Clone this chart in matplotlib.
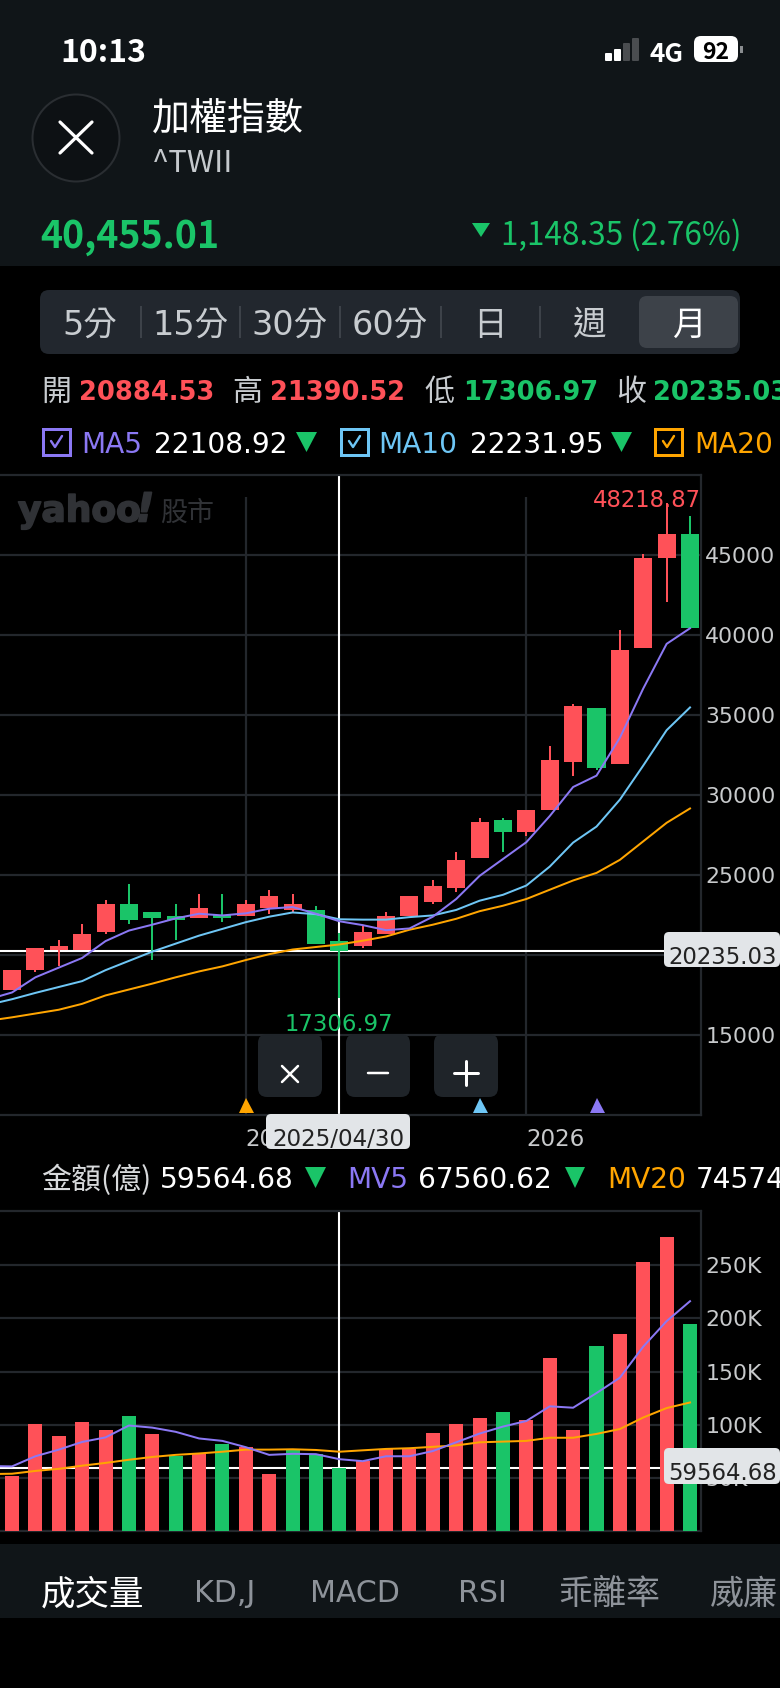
import numpy as np
import matplotlib
matplotlib.use('Agg')
import matplotlib.pyplot as plt
import matplotlib.patheffects as pe
from matplotlib.patches import Rectangle, Circle, FancyBboxPatch, Polygon

plt.rcParams['font.family'] = ['Noto Sans CJK TC', 'DejaVu Sans']
LATIN = ['DejaVu Sans', 'Noto Sans CJK TC']

# monthly candles
opens = [17790, 19053, 20290, 20290, 21421, 23184, 22684, 22421, 22290, 22526,
         22421, 22921, 22789, 22789, 20884.53, 20553, 21290, 22421, 23290, 24184,
         26053, 28421, 27684, 29053, 32053, 35421, 31921, 39184, 44816, 46316]
highs = [19053, 20421, 20921, 21921, 23421, 24421, 22684, 23184, 23790, 23790,
         23421, 24053, 23790, 23053, 21390.52, 21790, 22684, 23684, 24684, 26421,
         28553, 28553, 29053, 33053, 35684, 35421, 40316, 45053, 48218.87, 47421]
lows = [17790, 18921, 19290, 20290, 21290, 21921, 19684, 20921, 22290, 22053,
        22421, 22553, 22658, 20684, 17306.97, 20421, 21290, 22421, 23184, 23921,
        26053, 26421, 27421, 29053, 31184, 31553, 31921, 39184, 42053, 40455.01]
closes = [19053, 20421, 20553, 21290, 23184, 22184, 22290, 22184, 22921, 22290,
          23184, 23684, 23184, 20684, 20235.03, 21421, 22421, 23684, 24290, 25921,
          28290, 27684, 29053, 32184, 35553, 31684, 39053, 44816, 46316, 40455.01]

# moving averages start one month left of the first candle
ma5 = [17236, 17657, 18605, 19210, 19815, 20868, 21526, 21894, 22289, 22579, 22473,
       22605, 22894, 23000, 22579, 22108.92, 21868, 21552, 21658, 22394, 23500,
       24947, 26000, 27052, 28684, 30500, 31210, 33579, 36658, 39447, 40421]
ma10 = [16894, 17236, 17631, 18000, 18368, 19052, 19631, 20210, 20710, 21210, 21631,
        22052, 22394, 22658, 22552, 22231.95, 22210, 22210, 22368, 22473, 22816,
        23394, 23763, 24342, 25526, 27026, 28026, 29710, 31842, 34052, 35473]
ma20 = [15894, 16105, 16342, 16579, 16947, 17473, 17842, 18210, 18605, 18973, 19289,
        19684, 20052, 20342, 20500, 20658, 20894, 21158, 21579, 21894, 22263,
        22737, 23079, 23500, 24079, 24658, 25131, 25947, 27105, 28263, 29158]

volumes = [51574, 100192, 89023, 102163, 94608, 107748, 90994, 70627, 72927, 81468,
           79168, 53217, 76869, 72270, 59564.68, 66028, 76869, 77526, 92637, 100192,
           106105, 111690, 104134, 162279, 94608, 173776, 184945, 252616, 276925, 194472]
mv5 = [61101, 60773, 70299, 76540, 83768, 88038, 99207, 97236, 93294, 87053, 84753,
       78840, 71613, 72599, 72270, 67560.62, 65700, 70299, 70299, 75227, 83439,
       91652, 98222, 103478, 117275, 115961, 129758, 144212, 173448, 197429, 216153]
mv20 = [53546, 53874, 56502, 58473, 61430, 64058, 67014, 69642, 71613, 72927, 74570,
        76541, 76541, 76869, 76212, 74574, 75884, 77198, 77855, 79169, 80483,
        83439, 84096, 84753, 87710, 87710, 91323, 95922, 106763, 115632, 120888]

price_ticks = [15000, 20000, 25000, 30000, 35000, 40000, 45000]
vol_ticks = [50000, 100000, 150000, 200000, 250000]
vol_labels = ['50K', '100K', '150K', '200K', '250K']
year_idx = [10, 22]
year_labels = ['2025', '2026']
signal_idx = [10, 20, 25]
signal_cols = ['#ffa500', '#6ec6f5', '#8b78f4']
pick = 14

RED = '#ff5158'
GREEN = '#1ac468'
PURPLE = '#8b78f4'
BLUE = '#6ec6f5'
ORANGE = '#ffa500'
GRID = '#23272c'
PANEL = '#101518'
LBL = '#c8cacc'
W, H = 780, 1688


def px(n):
    return n * 0.72


fig = plt.figure(figsize=(W / 100, H / 100), dpi=100, facecolor='black')


def chart_axes(top, bottom):
    a = fig.add_axes([0, 1 - bottom / H, 701 / W, (bottom - top) / H], facecolor='black')
    a.set_xlim(-12 / 23.38, 689 / 23.38)
    a.yaxis.tick_right()
    a.set_axisbelow(True)
    a.grid(axis='y', color=GRID, lw=1.6)
    a.tick_params(axis='both', length=0, labelcolor=LBL, labelsize=px(22), pad=3,
                  labelfontfamily='DejaVu Sans')
    a.spines['left'].set_visible(False)
    for s in ['right', 'top', 'bottom']:
        a.spines[s].set_color(GRID)
        a.spines[s].set_linewidth(1.6)
    return a


xs = np.arange(len(closes))
xs_ma = np.arange(-1, len(closes))
o = np.array(opens)
c = np.array(closes)

# price panel
ax = chart_axes(475, 1115)
ax.set_ylim(10000, 50000)
ax.set_yticks(price_ticks)
ax.set_xticks(year_idx)
ax.set_xticklabels(year_labels, ha='left')
ax.tick_params(axis='x', pad=9, labelsize=px(23))
ax.vlines(year_idx, 10000, 48600, color=GRID, lw=1.6, zorder=1)
ax.axvline(pick, color='white', lw=1.5, zorder=2)
ax.axhline(closes[pick], color='white', lw=1.5, zorder=2)
candle_cols = [RED if c[i] >= o[i] else GREEN for i in xs]
ax.vlines(xs, lows, highs, color=candle_cols, lw=px(2), zorder=3)
ax.bar(xs, np.abs(c - o), bottom=np.minimum(c, o), width=0.77, color=candle_cols, zorder=3)
ax.plot(xs_ma, ma20, color=ORANGE, lw=px(2), zorder=4)
ax.plot(xs_ma, ma10, color=BLUE, lw=px(2), zorder=4)
ax.plot(xs_ma, ma5, color=PURPLE, lw=px(2), zorder=4)
for i, col in zip(signal_idx, signal_cols):
    ax.plot(i, 10650, marker='^', ms=px(15), color=col, mew=0, zorder=4)

# amount panel, bar colour follows the previous close
ax2 = chart_axes(1211, 1531)
ax2.set_ylim(0, 301000)
ax2.set_yticks(vol_ticks)
ax2.set_yticklabels(vol_labels)
ax2.set_xticks([])
ax2.axvline(pick, color='white', lw=1.5, zorder=2)
ax2.axhline(volumes[pick], color='white', lw=1.5, zorder=2)
vol_cols = [RED if i == 0 or c[i] >= c[i - 1] else GREEN for i in xs]
ax2.bar(xs, volumes, width=0.6, color=vol_cols, zorder=3)
ax2.plot(xs_ma, mv20, color=ORANGE, lw=px(2), zorder=4)
ax2.plot(xs_ma, mv5, color=PURPLE, lw=px(2), zorder=4)

# everything around the charts is placed in screen pixels
ui = fig.add_axes([0, 0, 1, 1], zorder=5)
ui.set_xlim(0, W)
ui.set_ylim(H, 0)
ui.axis('off')
ui.patch.set_alpha(0)


def txt(x, y, s, size, color='white', ha='left', weight='normal', **kw):
    return ui.text(x, y, s, fontsize=px(size), color=color, ha=ha, va='center_baseline',
                   fontweight=weight, **kw)


def box(x0, y0, x1, y1, color, r=8, z=1, **kw):
    p = FancyBboxPatch((x0 + r, y0 + r), x1 - x0 - 2 * r, y1 - y0 - 2 * r,
                       boxstyle=f'round,pad={r},rounding_size={r}', fc=color, ec='none', zorder=z, **kw)
    ui.add_patch(p)


def tri_down(x0, x1, y0, y1, color=GREEN):
    ui.add_patch(Polygon([(x0, y0), (x1, y0), ((x0 + x1) / 2, y1)], fc=color, ec='none'))


def seg(xx, yy, color='white', lw=2.5):
    ui.plot(xx, yy, color=color, lw=px(lw), solid_capstyle='round')


def check(x0, color):
    ui.add_patch(Rectangle((x0 + 1, 429), 27, 26, fc='none', ec=color, lw=px(3)))
    seg([x0 + 9, x0 + 13, x0 + 20], [441, 447, 436], color, 2.4)


# top bar
ui.add_patch(Rectangle((0, 0), W, 266, fc=PANEL, ec='none', zorder=0))
txt(60.5, 49, '10:13', 32, weight='bold')
for i, (x0, top, col) in enumerate([(605, 53, 'white'), (614, 49, 'white'), (623, 43, '#4a4d50'), (632, 38, '#4a4d50')]):
    ui.add_patch(FancyBboxPatch((x0 + 1, top + 1), 5, 59 - top, boxstyle='round,pad=1', fc=col, ec='none'))
txt(649, 51, '4G', 26, weight='bold')
box(694, 36, 738, 62, 'white', r=7)
txt(716, 50, '92', 23, color='black', ha='center', weight='bold', zorder=3)
ui.add_patch(Rectangle((740, 46), 3, 7, fc='#8a8d90', ec='none'))

ui.add_patch(Circle((76, 138), 43.5, fc='#0d1114', ec='#2a2e32', lw=px(2)))
seg([60, 92], [122, 153], lw=3.2)
seg([60, 92], [153, 122], lw=3.2)
txt(152, 116, '加權指數', 38, weight='medium')
txt(152, 160, '^TWII', 31, color='#c5c9cd')
txt(40, 232, '40,455.01', 37.5, color=GREEN, weight='bold')
tri_down(472, 490, 223, 237)
txt(501, 232, '1,148.35 (2.76%)', 31.5, color=GREEN)

# period tabs
box(40, 290, 740, 354, '#22272e', r=9)
box(639, 296, 738, 348, '#3d4249', r=8, z=2)
tab_x = [90, 190, 290, 390, 490, 590, 690]
tab_names = ['5分', '15分', '30分', '60分', '日', '週', '月']
for x, name in zip(tab_x, tab_names):
    txt(x, 322, name, 33.5, color='white' if name == '月' else '#c8ccd0', ha='center', zorder=3,
        family=LATIN)
for x in [141, 240, 340, 441, 540]:
    ui.plot([x, x], [307, 337], color='#3d4249', lw=px(2), zorder=3)

# OHLC row
for x, s in zip([41, 232, 424, 616], ['開', '高', '低', '收']):
    txt(x, 389, s, 30, color='#c8ccd0')
for x, s, col in zip([79, 270, 463, 653], ['20884.53', '21390.52', '17306.97', '20235.03'], [RED, RED, GREEN, GREEN]):
    txt(x, 390, s, 25.8, color=col, weight='bold', family='DejaVu Sans')

# MA row
check(42, PURPLE)
txt(81, 442, 'MA5', 28, color=PURPLE, family='DejaVu Sans')
txt(154, 442, '22108.92', 28, family='DejaVu Sans')
tri_down(296, 317, 432, 452)
check(340, BLUE)
txt(378, 442, 'MA10', 28, color=BLUE, family='DejaVu Sans')
txt(470, 442, '22231.95', 28, family='DejaVu Sans')
tri_down(611, 632, 432, 452)
check(654, ORANGE)
txt(694, 442, 'MA20', 28, color=ORANGE, family='DejaVu Sans')

# watermark
mark = txt(18, 508, 'yahoo', 36, color='#303236', weight='bold', family='DejaVu Sans')
mark.set_path_effects([pe.withStroke(linewidth=1.2, foreground='#303236')])
mark2 = txt(136, 506, '!', 40, color='#303236', weight='bold', family='DejaVu Sans', style='italic')
mark2.set_path_effects([pe.withStroke(linewidth=1.2, foreground='#303236')])
txt(160, 510, '股市', 27, color='#303236')

# price labels
txt(701, 498, '48218.87', 22.7, color=RED, ha='right', family='DejaVu Sans')
txt(285, 1022, '17306.97', 22.7, color=GREEN, family='DejaVu Sans')
box(664, 932, 780, 967, '#e2e5e8', r=5)
txt(722.5, 955, '20235.03', 22.7, color='#222222', ha='center', family='DejaVu Sans', zorder=3)

# zoom buttons
for x0, x1 in [(258, 322), (346, 410), (434, 498)]:
    box(x0, 1034, x1, 1097, '#1f2429', r=9)
seg([282, 298], [1066, 1082])
seg([282, 298], [1082, 1066])
seg([368, 388], [1073, 1073])
seg([454, 478], [1073, 1073], lw=3)
seg([466, 466], [1061, 1085], lw=3)

box(266, 1114, 410, 1149, '#e2e5e8', r=5)
txt(338, 1137, '2025/04/30', 23, color='#222222', ha='center', family='DejaVu Sans', zorder=3)

# amount row
txt(41, 1177, '金額(億)', 30, color='#d8dadc')
txt(160, 1177, '59564.68', 28, family='DejaVu Sans')
tri_down(305, 326, 1167, 1188)
txt(347, 1177, 'MV5', 28, color=PURPLE, family='DejaVu Sans')
txt(418, 1177, '67560.62', 28, family='DejaVu Sans')
tri_down(565, 585, 1167, 1188)
txt(607, 1177, 'MV20', 28, color=ORANGE, family='DejaVu Sans')
txt(696, 1177, '74574', 28, family='DejaVu Sans')

box(664, 1448, 780, 1484, '#e2e5e8', r=5)
txt(722.5, 1471, '59564.68', 22.7, color='#222222', ha='center', family='DejaVu Sans', zorder=3)

# indicator tabs
ui.add_patch(Rectangle((0, 1544), W, 74, fc=PANEL, ec='none', zorder=0))
txt(41, 1591, '成交量', 34.5, weight='medium')
ind_x = [194, 310, 458, 558, 710]
ind_names = ['KD,J', 'MACD', 'RSI', '乖離率', '威廉']
ind_sizes = [30, 30, 30, 34, 34]
for x, name, size in zip(ind_x, ind_names, ind_sizes):
    txt(x, 1591, name, size, color='#8e939a', family=LATIN)

fig.savefig('out.png', dpi=100, facecolor='black')
